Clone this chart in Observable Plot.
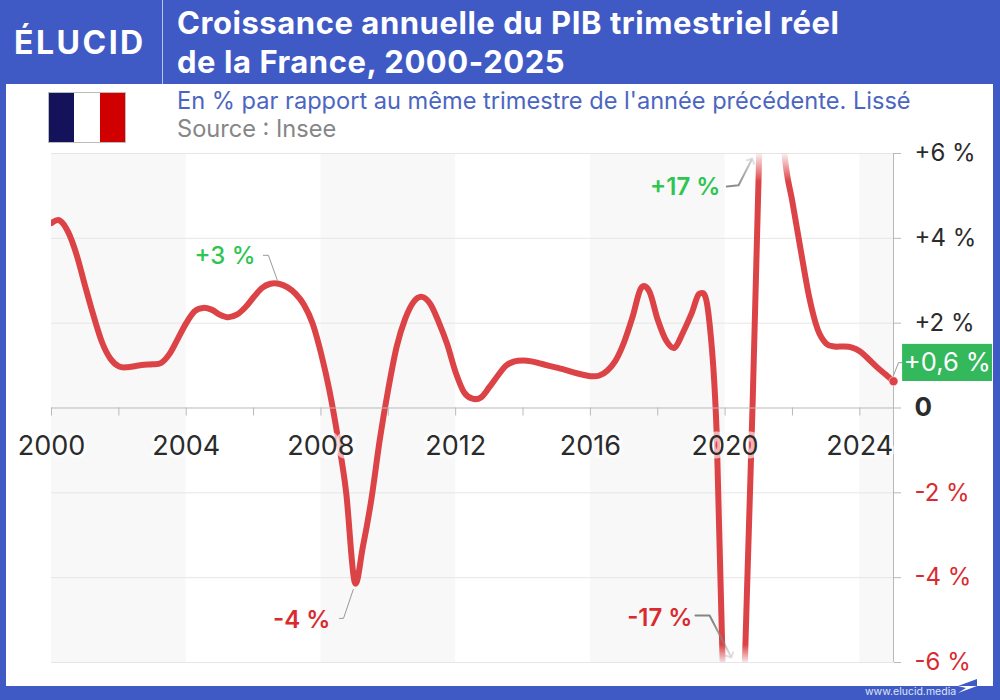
<!DOCTYPE html>
<html>
<head>
<meta charset="utf-8">
<script src="https://cdn.jsdelivr.net/npm/d3@7"></script>
<script src="https://cdn.jsdelivr.net/npm/@observablehq/plot@0.6"></script>
<style>
  html, body { margin: 0; padding: 0; }
  body { width: 1000px; height: 700px; overflow: hidden; font-family: Inter, sans-serif; }
  #page { position: relative; width: 1000px; height: 700px; background: #3f5ac4; }
  #panel { position: absolute; left: 6px; top: 84px; width: 987px; height: 602px; background: #fff; }
  #logo { position: absolute; left: 14px; top: 21px; color: #fff; font-weight: 700; font-size: 32px; letter-spacing: 2.5px; line-height: 44px; }
  #sep { position: absolute; left: 162px; top: 0; width: 1px; height: 84px; background: #b9c4ea; }
  h1 { position: absolute; left: 177px; top: 4px; margin: 0; color: #fff; font-weight: 700; font-size: 31px; letter-spacing: 0.55px; line-height: 38.5px; white-space: nowrap; }
  #flag { position: absolute; left: 48px; top: 92px; width: 78px; height: 51px; box-sizing: border-box; border: 1px solid #bbb; display: flex; }
  #flag i { flex: 1; }
  #sub { position: absolute; left: 177px; top: 88px; color: #4b66c0; font-size: 23.6px; line-height: 26px; white-space: nowrap; }
  #src { position: absolute; left: 177px; top: 116px; color: #868686; font-size: 23.6px; line-height: 26px; white-space: nowrap; }
  #chart { position: absolute; left: 6px; top: 145px; }
  #foot { position: absolute; left: 865px; top: 685px; color: #dfe4f6; font-size: 10.5px; line-height: 14px; white-space: nowrap; }
  #footlogo { position: absolute; left: 957px; top: 678px; }
</style>
</head>
<body>
<div id="page">
  <div id="panel"></div>
  <div id="logo">ÉLUCID</div>
  <div id="sep"></div>
  <h1>Croissance annuelle du PIB trimestriel réel<br>de la France, 2000-2025</h1>
  <div id="flag"><i style="background:#14125b"></i><i style="background:#fff"></i><i style="background:#d00000"></i></div>
  <div id="sub">En % par rapport au même trimestre de l'année précédente. Lissé</div>
  <div id="src">Source : Insee</div>
  <div id="chart"></div>
  <div id="foot">www.elucid.media</div>
  <svg id="footlogo" width="20" height="16"><path d="M1 8 L20 1 V8 Z" fill="#3f5ac4"/><path d="M1 8 H20 L1 15 L9 10 Z" fill="#fff"/></svg>
</div>
<script>
const startYear = 2000
// one value per quarter, 2000 T1 to 2025 T1
const growth = [
  4.36, 4.42, 4.14, 3.6,
  2.87, 2.17, 1.55, 1.16,
  0.98, 0.96, 0.99, 1.02,
  1.03, 1.06, 1.27, 1.63,
  2.0, 2.28, 2.36, 2.32,
  2.2, 2.14, 2.2, 2.37,
  2.61, 2.83, 2.93, 2.93,
  2.85, 2.69, 2.43, 2.0,
  1.3, 0.42, -0.69, -2.0,
  -4.1, -3.25, -2.14, -0.73,
  0.45, 1.45, 2.1, 2.5,
  2.62, 2.45, 2.02, 1.5,
  0.84, 0.37, 0.22, 0.25,
  0.49, 0.76, 1.0, 1.1,
  1.12, 1.1, 1.05, 1.0,
  0.95, 0.9, 0.84, 0.79,
  0.75, 0.76, 0.88, 1.12,
  1.55, 2.14, 2.82, 2.75,
  2.08, 1.59, 1.42, 1.78,
  2.22, 2.7, 2.26, -0.6,
  -8.5, -17.4, -8.4, -1.7,
  5.6, 17, 9.5, 6.1,
  4.85, 3.7, 2.6, 1.85,
  1.52, 1.45, 1.45, 1.43,
  1.34, 1.16, 0.97, 0.8,
  0.63
]
const years = growth.map((d, i) => startYear + i / 4)

const xTicks = d3.range(2000, 2025, 2)
const xLabels = [2000, 2004, 2008, 2012, 2016, 2020, 2024]
const yTicks = [6, 4, 2, -2, -4, -6]
const yLabels = ["+6 %", "+4 %", "+2 %", "-2 %", "-4 %", "-6 %"]
const bandStart = [2000, 2008, 2016, 2024]
const bandEnd = [2004, 2012, 2020, 2025]

const lineData = years.map((x, i) => ({x, y: growth[i]}))
const leader = (xs, ys) => xs.map((x, i) => ({x, y: ys[i]}))

// soft fade of the curve where it leaves the chart, top and bottom
const fadeDefs = (index, {y}) => {
  const defs = d3.create("svg:defs")
  const grad = defs.append("linearGradient")
    .attr("id", "fade").attr("gradientUnits", "userSpaceOnUse")
    .attr("x1", 0).attr("x2", 0).attr("y1", y(6)).attr("y2", y(-6))
  const stops = [[0, 0.08], [0.055, 1], [0.965, 1], [1, 0.12]]
  stops.forEach(s => grad.append("stop").attr("offset", s[0]).attr("stop-color", "#dc4346").attr("stop-opacity", s[1]))
  const grey = defs.append("linearGradient")
    .attr("id", "fadegrey").attr("gradientUnits", "userSpaceOnUse")
    .attr("x1", 0).attr("x2", 0).attr("y1", y(6)).attr("y2", y(-6))
  const greyStops = [[0, 0.25], [0.07, 1], [0.92, 1], [0.99, 0.25]]
  greyStops.forEach(s => grey.append("stop").attr("offset", s[0]).attr("stop-color", "#858585").attr("stop-opacity", s[1]))
  return defs.node()
}

const font = {fontSize: 24, fontFamily: "Inter"}

let chart = Plot.plot({
  width: 987,
  height: 541,
  marginLeft: 45,
  marginRight: 100,
  marginTop: 8,
  marginBottom: 24,
  x: {domain: [2000, 2025], axis: null},
  y: {domain: [-6, 6], axis: null},
  style: {background: "transparent", overflow: "visible"},
  marks: [
    fadeDefs,
    Plot.rect(bandStart, {x1: d => d, x2: (d, i) => bandEnd[i], y1: -6, y2: 6, fill: "#f8f8f8"}),
    Plot.ruleY(yTicks, {stroke: "#e6e6e6", strokeWidth: 1}),
    Plot.line(lineData, {x: "x", y: "y", curve: d3.curveCatmullRom.alpha(0), stroke: "url(#fade)", strokeWidth: 6, clip: "frame"}),
    Plot.ruleY([0], {stroke: "#b9b9b9", x1: 2000, x2: 2025}),
    Plot.ruleX(xTicks, {y1: 0, y2: -0.19, stroke: "#b9b9b9"}),
    Plot.ruleX([2025], {y1: -6, y2: 6, stroke: "#b9b9b9"}),
    Plot.axisY([...yTicks, 0], {anchor: "right", tickSize: 7, stroke: "#b9b9b9", text: null, label: null}),
    Plot.text(xLabels, {x: d => d, y: -0.9, text: d => String(d), ...font, fontSize: 27, fill: "#2b2b2b", stroke: "white", strokeOpacity: 0.6, strokeWidth: 7, paintOrder: "stroke"}),
    Plot.text(yTicks, {x: () => 2025, y: d => d, dx: 21, text: (d, i) => yLabels[i], textAnchor: "start", ...font,
      fill: d => d < 0 ? "#d92b2f" : "#2b2b2b"}),
    Plot.text(["0"], {x: () => 2025, y: () => 0, dx: 21, text: d => d, textAnchor: "start", ...font, fontSize: 26, fontWeight: 700, fill: "#2b2b2b"}),
    // leaders from the notes to the curve
    Plot.line(leader([2006.29, 2006.44, 2006.71], [3.6, 3.6, 3.0]), {x: "x", y: "y", stroke: "#999", strokeWidth: 1}),
    Plot.line(leader([2008.55, 2008.67, 2008.96], [-4.96, -4.96, -4.28]), {x: "x", y: "y", stroke: "#999", strokeWidth: 1}),
    Plot.line(leader([2019.12, 2019.54, 2020.16], [-4.89, -4.89, -5.84]), {x: "x", y: "y", stroke: "url(#fadegrey)", strokeWidth: 2, markerEnd: "arrow"}),
    Plot.line(leader([2020.05, 2020.4, 2020.78], [5.22, 5.25, 5.84]), {x: "x", y: "y", stroke: "url(#fadegrey)", strokeWidth: 2, markerEnd: "arrow"}),
    Plot.line(leader([2025, 2025.15, 2025.27], [0.77, 1.07, 1.07]), {x: "x", y: "y", stroke: "#999", strokeWidth: 1}),
    // notes
    Plot.text(["+3 %"], {x: () => 2006.06, y: () => 3.57, text: d => d, textAnchor: "end", ...font, fill: "#2fc552", fontWeight: 500}),
    Plot.text(["-4 %"], {x: () => 2008.28, y: () => -5.0, text: d => d, textAnchor: "end", ...font, fill: "#d92b2f", fontWeight: 600}),
    Plot.text(["-17 %"], {x: () => 2019.03, y: () => -4.95, text: d => d, textAnchor: "end", ...font, fill: "#d92b2f", fontWeight: 600}),
    Plot.text(["+17 %"], {x: () => 2019.86, y: () => 5.2, text: d => d, textAnchor: "end", ...font, fill: "#2fc552", fontWeight: 600}),
    // last value
    Plot.rect([0.6], {x1: 2025.27, x2: 2027.94, y1: 0.625, y2: 1.5, fill: "#33b85c"}),
    Plot.text(["+0,6 %"], {x: () => 2026.6, y: () => 1.06, text: d => d, ...font, fontSize: 25.5, fill: "white"}),
    Plot.dot([lineData[lineData.length - 1]], {x: "x", y: "y", r: 4.5, fill: "#dc4346", stroke: "white", strokeWidth: 0.5})
  ]
})
d3.select('#chart').append(() => chart)
</script>
</body>
</html>
